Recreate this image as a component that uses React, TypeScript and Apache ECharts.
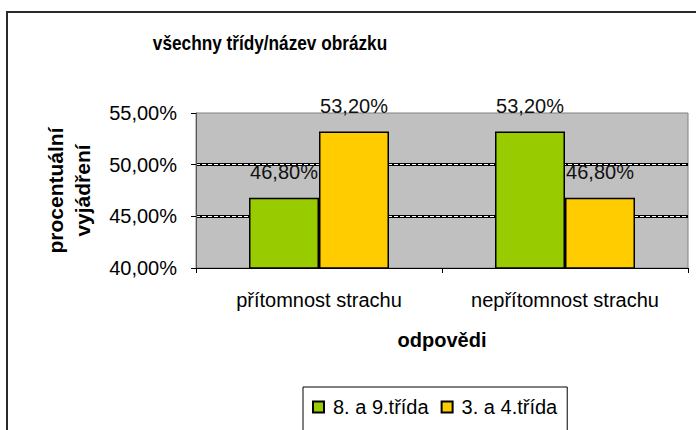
import React, { useEffect, useRef } from "react";
import * as echarts from "echarts";

const titleText = "všechny třídy/název obrázku";
const categories = ["přítomnost strachu", "nepřítomnost strachu"];
const seriesNames = ["8. a 9.třída", "3. a 4.třída"];
const grade89 = [46.8, 53.2];
const grade34 = [53.2, 46.8];
const colors = ["#99CC00", "#FFCC00"];
const yMin = 40;
const yMax = 55;
const yStep = 5;

const fmt = (v: number) => v.toFixed(2).replace(".", ",") + "%";

export default function App() {
  const ref = useRef<HTMLDivElement>(null);
  useEffect(() => {
    if (!ref.current) return;
    const chart = echarts.init(ref.current, null, { renderer: "svg" });
    const font = "'Liberation Sans', Arial, sans-serif";
    const mkSeries = (name: string, data: number[], color: string) => ({
      name,
      type: "bar",
      data,
      barWidth: 70,
      barGap: "0%",
      itemStyle: { color, borderColor: "#000", borderWidth: 1.5 },
      label: {
        show: true,
        position: "top",
        distance: 16,
        color: "#111",
        fontFamily: font,
        fontSize: 20,
        formatter: (p: any) => fmt(p.value),
      },
    });
    chart.setOption({
      animation: false,
      backgroundColor: "#fff",
      graphic: [
        {
          type: "text",
          x: 270,
          y: 43,
          scaleX: 0.82,
          style: {
            text: titleText,
            fontFamily: font,
            fontSize: 21,
            fontWeight: "bold",
            fill: "#000",
            align: "center",
            verticalAlign: "middle",
          },
        },
        {
          type: "rect",
          shape: { x: 7, y: 12, width: 800, height: 600 },
          style: { fill: "none", stroke: "#2a2a2a", lineWidth: 2 },
          z: 100,
        },
      ],
      legend: {
        left: 303,
        top: 387,
        padding: [10, 10, 40, 9],
        borderColor: "#000",
        borderWidth: 1,
        itemWidth: 11,
        itemHeight: 11,
        itemGap: 12,
        icon: "rect",
        textStyle: { fontFamily: font, fontSize: 20, color: "#000", padding: [0, 0, 0, 4] },
        data: seriesNames,
      },
      grid: {
        left: 196,
        right: 8,
        top: 113,
        bottom: 162,
        show: true,
        backgroundColor: "#C0C0C0",
        borderColor: "#808080",
        borderWidth: 1,
      },
      xAxis: {
        type: "category",
        data: categories,
        name: "odpovědi",
        nameLocation: "middle",
        nameGap: 62,
        nameTextStyle: { fontFamily: font, fontSize: 20, fontWeight: "bold", color: "#000" },
        axisLine: { show: true, lineStyle: { color: "#000", width: 1 } },
        axisTick: { show: true, alignWithLabel: false, length: 5, lineStyle: { color: "#000" } },
        axisLabel: { margin: 22, fontFamily: font, fontSize: 20, color: "#000" },
        splitLine: { show: false },
      },
      yAxis: [
        {
          type: "value",
          min: yMin,
          max: yMax,
          interval: yStep,
          name: "procentuální\nvyjádření",
          nameLocation: "middle",
          nameGap: 100,
          nameRotate: 90,
          nameTextStyle: {
            fontFamily: font,
            fontSize: 21,
            fontWeight: "bold",
            color: "#000",
            lineHeight: 27,
          },
          axisLine: { show: true, lineStyle: { color: "#555", width: 1 } },
          axisTick: { show: true, length: 5, lineStyle: { color: "#000" } },
          axisLabel: {
            margin: 19,
            fontFamily: font,
            fontSize: 20,
            color: "#000",
            formatter: (v: number) => fmt(v),
          },
          splitLine: {
            show: true,
            showMinLine: false,
            showMaxLine: false,
            lineStyle: { color: "#000", width: 3 },
          },
        },
        {
          type: "value",
          min: yMin,
          max: yMax,
          interval: yStep,
          position: "left",
          axisLine: { show: false },
          axisTick: { show: false },
          axisLabel: { show: false },
          splitLine: {
            show: true,
            showMinLine: false,
            showMaxLine: false,
            lineStyle: { color: "#fff", width: 1, type: [4, 2] },
          },
        },
      ],
      series: [
        mkSeries(seriesNames[0], grade89, colors[0]),
        mkSeries(seriesNames[1], grade34, colors[1]),
      ],
    });
    return () => chart.dispose();
  }, []);
  return (
    <div
      ref={ref}
      style={{ position: "fixed", left: 0, top: 0, width: 696, height: 430 }}
    />
  );
}
